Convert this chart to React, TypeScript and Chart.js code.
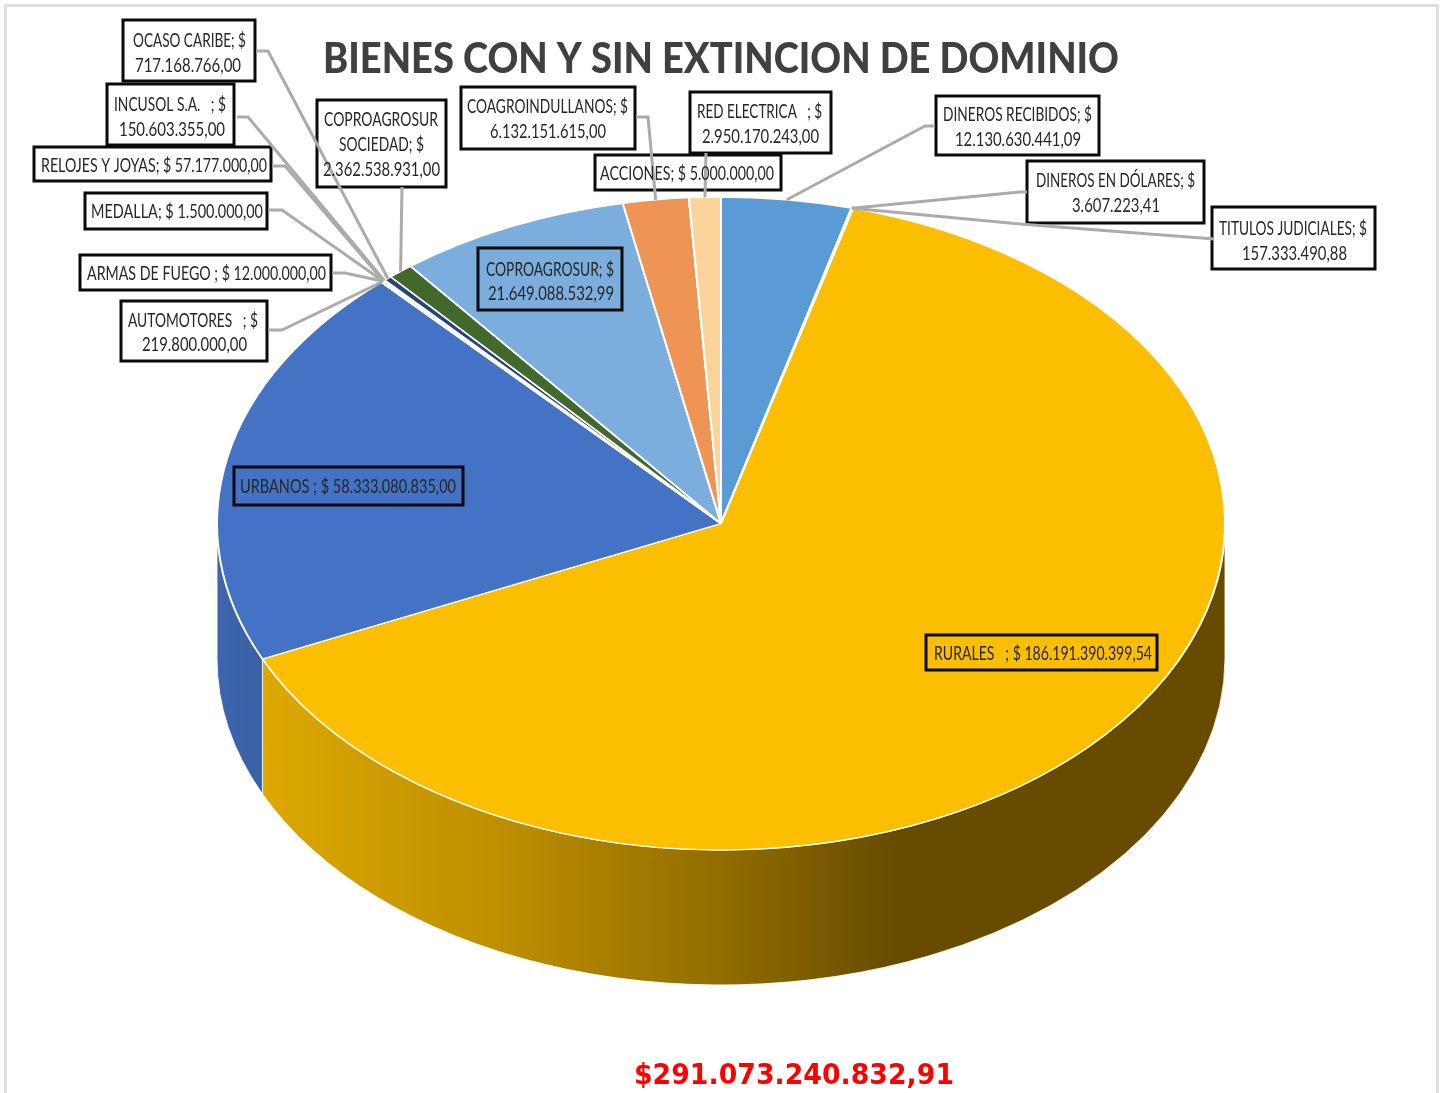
import React, { useEffect, useRef } from "react";
import { Chart, registerables } from "chart.js";

Chart.register(...registerables);

const categories = [
  "DINEROS RECIBIDOS", "DINEROS EN DÓLARES", "TITULOS JUDICIALES", "RURALES", "URBANOS",
  "AUTOMOTORES", "ARMAS DE FUEGO", "MEDALLA", "RELOJES Y JOYAS", "INCUSOL S.A.",
  "OCASO CARIBE", "COPROAGROSUR SOCIEDAD", "COPROAGROSUR", "COAGROINDULLANOS", "ACCIONES", "RED ELECTRICA",
];
const values = [
  12130630441.09, 3607223.41, 157333490.88, 186191390399.54, 58333080835.0,
  219800000, 12000000, 1500000, 57177000, 150603355,
  717168766, 2362538931, 21649088532.99, 6132151615, 5000000, 2950170243,
];
const sliceColors = [
  "#5B9BD5", "#A5A5A5", "#A5A5A5", "#FBBE00", "#4472C4",
  "#70AD47", "#255E91", "#9E480E", "#636363", "#997300",
  "#264478", "#43682B", "#7BAEDC", "#EE9455", "#FBD59B", "#FAD49A",
];
const TITLE = "BIENES CON Y SIN EXTINCION DE DOMINIO";
const TOTAL = "$291.073.240.832,91";

// [sliceIndex, box, leader start points, text lines [text, centreX, centreY, width], filled]
const labelLayout: any[] = [
  [10, [123, 20, 132, 61], [[256, 51], [268, 51]], [["OCASO CARIBE; $", 189.5, 41, 113], ["717.168.766,00", 188, 66, 106]], true],
  [9, [107, 84, 127, 61], [[237, 117], [248, 117]], [["INCUSOL S.A.   ; $", 170, 105, 112], ["150.603.355,00", 172, 130, 106]], true],
  [8, [34, 147, 237, 34], [[272, 166], [285, 166]], [["RELOJES Y JOYAS; $ 57.177.000,00", 154, 166, 226]], true],
  [7, [85, 193, 182, 36], [[268, 210], [282, 210]], [["MEDALLA; $ 1.500.000,00", 177, 212, 172]], true],
  [6, [80, 255, 251, 35], [[332, 273], [345, 273]], [["ARMAS DE FUEGO ; $ 12.000.000,00", 206.5, 274, 239]], true],
  [5, [121, 301, 146, 60], [[268, 330], [282, 330]], [["AUTOMOTORES   ; $", 193, 321, 130], ["219.800.000,00", 194.5, 345, 105]], true],
  [11, [317, 100, 129, 87], [[402, 187], [402, 187]], [["COPROAGROSUR", 381, 120, 114], ["SOCIEDAD; $", 381.5, 145, 85], ["2.362.538.931,00", 381.5, 170, 117]], true],
  [13, [461, 87, 174, 62], [[636, 117], [648, 117]], [["COAGROINDULLANOS; $", 547.5, 107, 161], ["6.132.151.615,00", 548, 132, 116]], true],
  [15, [690, 92, 141, 61], [[706, 153], [706, 153]], [["RED ELECTRICA   ; $", 759.5, 112, 125], ["2.950.170.243,00", 760.5, 137, 117]], true],
  [14, [595, 155, 186, 35], [], [["ACCIONES; $ 5.000.000,00", 687, 174, 174]], true],
  [0, [936, 96, 163, 59], [[935, 126], [925, 126]], [["DINEROS RECIBIDOS; $", 1017.5, 115, 149], ["12.130.630.441,09", 1018, 140, 126]], true],
  [1, [1027, 161, 177, 62], [[1027, 192], [1020, 192]], [["DINEROS EN DÓLARES; $", 1115.5, 181, 159], ["3.607.223,41", 1116, 206, 88]], true],
  [2, [1212, 207, 163, 62], [[1214, 239], [1020, 224]], [["TITULOS JUDICIALES; $", 1293, 229, 148], ["157.333.490,88", 1294.5, 254, 105]], true],
  [12, [478, 248, 144, 62], [], [["COPROAGROSUR; $", 550, 270, 128], ["21.649.088.532,99", 551, 294, 126]], false],
  [4, [234, 467, 229, 38], [], [["URBANOS ; $ 58.333.080.835,00", 348, 487, 216]], false],
  [3, [926, 635, 231, 35], [], [["RURALES   ; $ 186.191.390.399,54", 1043, 654, 218]], false],
];

const PIE_CY = 523.5;
const PIE_RADIUS = 504;
const SQUASH = 326.5 / 504;
const DEPTH = 135;

const sideStops: Record<number, [number, string][]> = {
  3: [[0, "#E0AB00"], [0.045, "#DDA800"], [0.28, "#BE8F00"], [0.48, "#967000"], [0.68, "#664B00"], [1, "#664B00"]],
  4: [[0, "#3D66AE"], [0.045, "#3A60A4"], [1, "#3A60A4"]],
};

const pie3d = {
  id: "pie3d",
  beforeDraw(chart: any) {
    const ctx = chart.ctx;
    ctx.save();
    ctx.strokeStyle = "#DEDEDE";
    ctx.lineWidth = 3;
    ctx.strokeRect(5.5, 5.5, 1432, 1400);
    ctx.restore();
  },
  beforeDatasetsDraw(chart: any) {
    const ctx = chart.ctx;
    const arcs = chart.getDatasetMeta(0).data;
    arcs.forEach((arc: any, i: number) => {
      const stops = sideStops[i];
      if (!stops) return;
      const rx = arc.outerRadius;
      const ry = rx * SQUASH;
      const a = Math.max(arc.startAngle, 0);
      const b = Math.min(arc.endAngle, Math.PI);
      if (b <= a) return;
      const g = ctx.createLinearGradient(arc.x - rx, 0, arc.x + rx, 0);
      stops.forEach(([o, c]) => g.addColorStop(o, c));
      ctx.save();
      ctx.beginPath();
      ctx.ellipse(arc.x, PIE_CY, rx, ry, 0, a, b);
      ctx.ellipse(arc.x, PIE_CY + DEPTH, rx, ry, 0, b, a, true);
      ctx.closePath();
      ctx.fillStyle = g;
      ctx.fill();
      ctx.strokeStyle = "rgba(255,255,255,0.85)";
      ctx.lineWidth = 1;
      ctx.stroke();
      ctx.restore();
    });
    const cy = arcs[0].y;
    ctx.save();
    ctx.translate(0, PIE_CY);
    ctx.scale(1, SQUASH);
    ctx.translate(0, -cy);
  },
  afterDatasetsDraw(chart: any) {
    chart.ctx.restore();
  },
  afterDraw(chart: any) {
    const ctx = chart.ctx;
    const arcs = chart.getDatasetMeta(0).data;
    ctx.save();
    // boxes
    labelLayout.forEach(([, box, , , filled]) => {
      if (filled) {
        ctx.fillStyle = "#FFFFFF";
        ctx.fillRect(box[0], box[1], box[2], box[3]);
      }
      ctx.strokeStyle = "#0A0A0A";
      ctx.lineWidth = 3;
      ctx.strokeRect(box[0], box[1], box[2], box[3]);
    });
    // leaders, ending on the slice's own mid angle
    labelLayout.forEach(([idx, , pts]) => {
      if (!pts.length) return;
      const arc = arcs[idx];
      const mid = (arc.startAngle + arc.endAngle) / 2;
      const ex = arc.x + arc.outerRadius * Math.cos(mid);
      const ey = PIE_CY + arc.outerRadius * SQUASH * Math.sin(mid);
      ctx.beginPath();
      ctx.moveTo(pts[0][0], pts[0][1]);
      pts.slice(1).forEach((p: number[]) => ctx.lineTo(p[0], p[1]));
      ctx.lineTo(ex, ey);
      ctx.strokeStyle = "#ABABAB";
      ctx.lineWidth = 3;
      ctx.stroke();
    });
    // text
    ctx.textAlign = "center";
    ctx.textBaseline = "middle";
    ctx.fillStyle = "#262626";
    ctx.font = "20px Lato";
    labelLayout.forEach(([, , , lines]) => {
      lines.forEach(([t, x, y, w]: any[]) => ctx.fillText(t, x, y, w));
    });
    ctx.fillStyle = "#FF0000";
    ctx.font = "bold 28px 'DejaVu Sans'";
    ctx.fillText(TOTAL, 794, 1077, 320);
    ctx.restore();
  },
};

export default function App() {
  const ref = useRef<HTMLCanvasElement>(null);
  useEffect(() => {
    const chart = new Chart(ref.current as HTMLCanvasElement, {
      type: "pie",
      data: {
        labels: categories,
        datasets: [{ data: values, backgroundColor: sliceColors, borderColor: "#FFFFFF", borderWidth: 2, clip: false }],
      },
      options: {
        responsive: false,
        animation: false,
        radius: PIE_RADIUS,
        // the title's box is as wide as the padded area, and this condenses the title to its width
        layout: { padding: { left: 323, right: 321, top: 0, bottom: 0 } },
        plugins: {
          legend: { display: false },
          tooltip: { enabled: false },
          title: {
            display: true,
            text: TITLE,
            color: "#404040",
            font: { family: "Lato", weight: 900, size: 42, lineHeight: 1.2 },
            padding: { top: 34, bottom: 0 },
          },
        },
      },
      plugins: [pie3d],
    } as any);
    return () => chart.destroy();
  }, []);
  return (
    <canvas
      ref={ref}
      width={1440}
      height={1093}
      style={{ position: "absolute", left: 0, top: 0, display: "block" }}
    />
  );
}
